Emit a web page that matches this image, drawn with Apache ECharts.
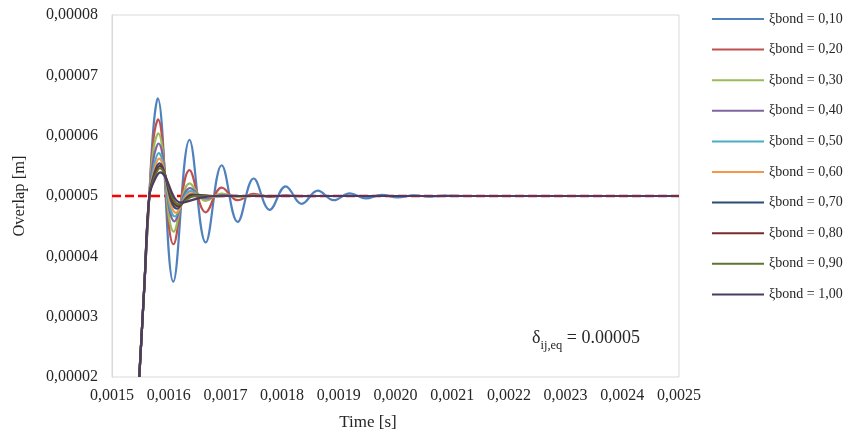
<!DOCTYPE html>
<html>
<head>
<meta charset="utf-8">
<script src="https://cdn.jsdelivr.net/npm/echarts@6/dist/echarts.min.js"></script>
<style>html,body{margin:0;padding:0;background:#fff}#c{width:856px;height:436px}</style>
</head>
<body>
<div id="c"></div>
<script>
// ---- data (time [s], overlap [m]) ----
const seriesNames = ['ξbond = 0,10','ξbond = 0,20','ξbond = 0,30','ξbond = 0,40','ξbond = 0,50',
                     'ξbond = 0,60','ξbond = 0,70','ξbond = 0,80','ξbond = 0,90','ξbond = 1,00'];
const seriesColors = ['#4F81BD','#C0504D','#9BBB59','#8064A2','#4BACC6',
                      '#F79646','#2C4D75','#772C2A','#5F7530','#4D3B62'];
const xTicks = [0.0015,0.0016,0.0017,0.0018,0.0019,0.0020,0.0021,0.0022,0.0023,0.0024,0.0025];
const yTicks = [0.00002,0.00003,0.00004,0.00005,0.00006,0.00007,0.00008];
const equilibrium = [[0.0015, 5.0e-5], [0.0025, 5.0e-5]];

const xi010 = [[0.0015481,2.0e-5],[0.0015570,3.5e-5],[0.0015658,5.0e-5],[0.0015732,6.15e-5],[0.0015806,6.62e-5],
  [0.0016081,3.58e-5],[0.0016367,5.93e-5],[0.0016653,4.23e-5],[0.0016935,5.51e-5],[0.0017217,4.57e-5],
  [0.0017499,5.29e-5],[0.0017781,4.77e-5],[0.0018063,5.16e-5],[0.0018346,4.87e-5],[0.0018628,5.09e-5],
  [0.0018910,4.93e-5],[0.0019192,5.045e-5],[0.0019474,4.96e-5],[0.0019757,5.02e-5],[0.0020039,4.975e-5],
  [0.0020321,5.01e-5],[0.0020603,4.99e-5],[0.0020885,5.005e-5],[0.0021226,5.0e-5],[0.0025,5.0e-5]];
const xi020 = [[0.0015481,2.0e-5],[0.0015570,3.5e-5],[0.0015658,5.0e-5],[0.0015732,5.95e-5],[0.0015811,6.27e-5],
  [0.0016085,4.20e-5],[0.0016367,5.43e-5],[0.0016653,4.73e-5],[0.0016935,5.14e-5],[0.0017217,4.93e-5],
  [0.0017499,5.035e-5],[0.0017781,4.985e-5],[0.0018063,5.01e-5],[0.0018346,4.997e-5],[0.0018668,5.0e-5],
  [0.0025,5.0e-5]];
const xi030 = [[0.0015481,2.0e-5],[0.0015570,3.5e-5],[0.0015658,5.0e-5],[0.0015735,5.80e-5],[0.0015815,6.04e-5],
  [0.0016090,4.41e-5],[0.0016370,5.21e-5],[0.0016653,4.92e-5],[0.0016935,5.04e-5],[0.0017217,4.985e-5],
  [0.0017499,5.005e-5],[0.0017875,5.0e-5],[0.0025,5.0e-5]];
const xi040 = [[0.0015481,2.0e-5],[0.0015570,3.5e-5],[0.0015658,5.0e-5],[0.0015738,5.65e-5],[0.0015820,5.87e-5],
  [0.0016102,4.58e-5],[0.0016376,5.13e-5],[0.0016658,4.955e-5],[0.0016940,5.015e-5],[0.0017257,5.0e-5],
  [0.0025,5.0e-5]];
const xi050 = [[0.0015481,2.0e-5],[0.0015570,3.5e-5],[0.0015658,5.0e-5],[0.0015740,5.50e-5],[0.0015824,5.71e-5],
  [0.0016111,4.66e-5],[0.0016385,5.08e-5],[0.0016675,4.975e-5],[0.0016993,5.0e-5],[0.0025,5.0e-5]];
const xi060 = [[0.0015481,2.0e-5],[0.0015570,3.5e-5],[0.0015658,5.0e-5],[0.0015742,5.42e-5],[0.0015829,5.62e-5],
  [0.0016129,4.72e-5],[0.0016393,5.045e-5],[0.0016693,4.99e-5],[0.0016993,5.0e-5],[0.0025,5.0e-5]];
const xi070 = [[0.0015481,2.0e-5],[0.0015570,3.5e-5],[0.0015658,5.0e-5],[0.0015744,5.37e-5],[0.0015834,5.54e-5],
  [0.0016146,4.79e-5],[0.0016411,5.025e-5],[0.0016728,5.0e-5],[0.0025,5.0e-5]];
const xi080 = [[0.0015481,2.0e-5],[0.0015570,3.5e-5],[0.0015658,5.0e-5],[0.0015746,5.33e-5],[0.0015840,5.50e-5],
  [0.0016164,4.83e-5],[0.0016429,5.01e-5],[0.0016728,5.0e-5],[0.0025,5.0e-5]];
const xi090 = [[0.0015481,2.0e-5],[0.0015570,3.5e-5],[0.0015658,5.0e-5],[0.0015748,5.30e-5],[0.0015843,5.46e-5],
  [0.0016182,4.86e-5],[0.0016464,5.0e-5],[0.0025,5.0e-5]];
const xi100 = [[0.0015481,2.0e-5],[0.0015570,3.5e-5],[0.0015658,5.0e-5],[0.0015750,5.26e-5],[0.0015850,5.39e-5],
  [0.0016217,4.89e-5],[0.0016552,4.97e-5],[0.0016817,5.0e-5],[0.0025,5.0e-5]];
const allSeries = [xi010, xi020, xi030, xi040, xi050, xi060, xi070, xi080, xi090, xi100];

// ---- chart ----
const FONT = "'Liberation Serif', 'Times New Roman', serif";
const TXT = '#262626';
const chart = echarts.init(document.getElementById('c'), null, {renderer: 'canvas'});

const series = [{
  name: 'eq', type: 'line', data: equilibrium, symbol: 'none', silent: true, z: 1,
  lineStyle: {color: '#FF0000', width: 2.5, type: [9, 4]}
}];
allSeries.forEach((d, i) => {
  series.push({
    name: seriesNames[i], type: 'line', data: d, symbol: 'none', smooth: 0.4, z: 2 + i,
    color: seriesColors[i], lineStyle: {color: seriesColors[i], width: 2.2}
  });
});

chart.setOption({
  animation: false,
  backgroundColor: '#ffffff',
  grid: {left: 112, right: 177, top: 15, bottom: 59, show: true, borderColor: '#d9d9d9', borderWidth: 1},
  xAxis: {
    type: 'value', min: xTicks[0], max: xTicks[xTicks.length - 1], interval: 0.0001,
    axisLine: {show: false}, axisTick: {show: false}, splitLine: {show: false},
    axisLabel: {margin: 11, color: TXT, fontFamily: FONT, fontSize: 16,
      formatter: v => v.toFixed(4).replace('.', ',')}
  },
  yAxis: {
    type: 'value', min: yTicks[0], max: yTicks[yTicks.length - 1], interval: 0.00001,
    axisLine: {show: true, lineStyle: {color: '#d9d9d9'}}, axisTick: {show: false}, splitLine: {show: false},
    axisLabel: {margin: 14, color: TXT, fontFamily: FONT, fontSize: 16,
      formatter: v => v.toFixed(5).replace('.', ',')}
  },
  legend: {
    data: seriesNames, orient: 'vertical', left: 712, top: 12, padding: 0,
    icon: 'rect', itemWidth: 52, itemHeight: 2, itemGap: 16.6,
    textStyle: {color: TXT, fontFamily: FONT, fontSize: 14, lineHeight: 14}
  },
  graphic: [
    {type: 'text', x: 20, y: 196, rotation: Math.PI / 2,
     style: {text: 'Overlap [m]', align: 'center', verticalAlign: 'middle', fill: TXT, font: '16.5px ' + FONT}},
    {type: 'text', x: 368, y: 423,
     style: {text: 'Time [s]', align: 'center', verticalAlign: 'middle', fill: TXT, font: '17px ' + FONT}},
    {type: 'text', x: 532, y: 338,
     style: {text: '{a|δ}{b|ij,eq}{a| = 0.00005}', align: 'left', verticalAlign: 'middle', fill: TXT,
       rich: {
         a: {fontFamily: FONT, fontSize: 18, lineHeight: 22, fill: TXT, verticalAlign: 'middle'},
         b: {fontFamily: FONT, fontSize: 12.5, lineHeight: 12, fill: TXT, verticalAlign: 'bottom', padding: [0, 0, -3, 0]}
       }}}
  ],
  series: series
});
</script>
</body>
</html>
